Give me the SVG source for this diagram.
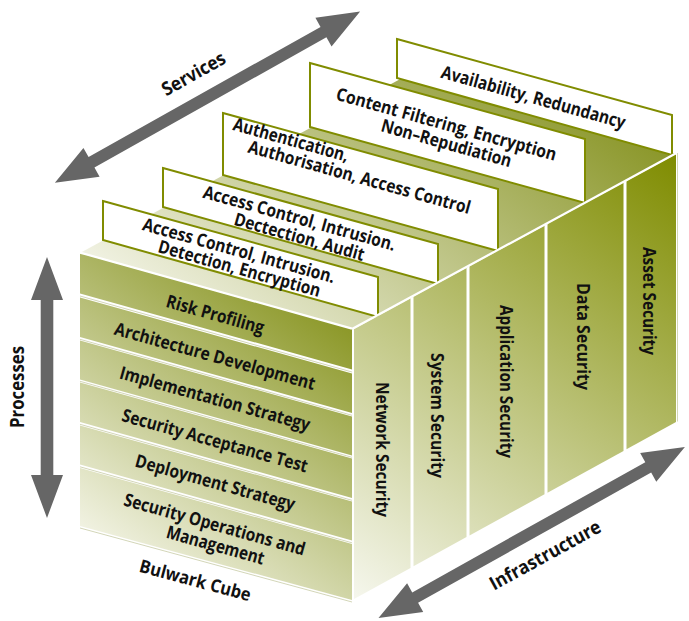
<svg xmlns="http://www.w3.org/2000/svg" width="689" height="621" viewBox="0 0 689 621">
<defs>
<linearGradient id="gFront" gradientUnits="userSpaceOnUse" x1="80" y1="527" x2="271" y2="269">
<stop offset="0" stop-color="#f1f2e2"/><stop offset="1" stop-color="#8c9828"/>
</linearGradient>
<linearGradient id="gRight" gradientUnits="userSpaceOnUse" x1="352" y1="600" x2="676" y2="154">
<stop offset="0" stop-color="#f6f7ee"/><stop offset="1" stop-color="#7f8c00"/>
</linearGradient>
<linearGradient id="gTop" gradientUnits="userSpaceOnUse" x1="80" y1="253" x2="342" y2="-97">
<stop offset="0" stop-color="#f1f2e3"/><stop offset="1" stop-color="#8a9628"/>
</linearGradient>
</defs>
<style>
.t{font-family:"Open Sans","Liberation Sans",sans-serif;font-weight:700;font-size:18px;fill:#111;text-anchor:middle}
.ax{font-size:19px}
.v{font-size:17.5px}
.plate{fill:#fff;stroke:#808c00;stroke-width:2}
.sep{stroke:#d3d6b8;stroke-width:1;fill:none}
.edge{stroke:#fff;stroke-width:2.2;fill:none}
.arrow{fill:#666}
</style>
<rect width="689" height="621" fill="#fff"/>

<g id="top-face">
<polygon points="80,253 352,330 676,154 404,77" fill="url(#gTop)"/>
</g>

<g id="plate-availability">
<polygon class="plate" points="397,39 672,115 672,155 397,78"/>
<text class="t" transform="translate(533.5 97) rotate(15.6)" dy=".355em" textLength="190.5" lengthAdjust="spacingAndGlyphs">Availability, Redundancy</text>
</g>
<g id="plate-content-filtering">
<polygon class="plate" points="310,63 585,139 585,203 310,127"/>
<text class="t" transform="translate(446.5 124) rotate(15.6)" dy=".355em" textLength="228" lengthAdjust="spacingAndGlyphs">Content Filtering, Encryption</text>
<text class="t" transform="translate(446.5 143) rotate(15.6)" dy=".355em" textLength="134.5" lengthAdjust="spacingAndGlyphs">Non–Repudiation</text>
</g>
<g id="plate-authentication">
<polygon class="plate" points="223,113 498,189 498,251 223,175"/>
<text class="t" transform="translate(291 139.6) rotate(15.6)" dy=".355em" textLength="119" lengthAdjust="spacingAndGlyphs">Authentication,</text>
<text class="t" transform="translate(359.5 177) rotate(15.6)" dy=".355em" textLength="230" lengthAdjust="spacingAndGlyphs">Authorisation, Access Control</text>
</g>
<g id="plate-access-audit">
<polygon class="plate" points="163,168 438,244 438,284 163,207"/>
<text class="t" transform="translate(299.5 218) rotate(15.6)" dy=".355em" textLength="199" lengthAdjust="spacingAndGlyphs">Access Control, Intrusion.</text>
<text class="t" transform="translate(299.4 236.7) rotate(15.6)" dy=".355em" textLength="134.5" lengthAdjust="spacingAndGlyphs">Dectection, Audit</text>
</g>
<g id="plate-access-encryption">
<polygon class="plate" points="103,201 378,277 378,317 103,240"/>
<text class="t" transform="translate(239 250.4) rotate(15.6)" dy=".355em" textLength="199" lengthAdjust="spacingAndGlyphs">Access Control, Intrusion.</text>
<text class="t" transform="translate(239.5 268.4) rotate(15.6)" dy=".355em" textLength="167.7" lengthAdjust="spacingAndGlyphs">Detection, Encryption</text>
</g>

<g id="col-network">
<polygon points="354,328.9 410.5,298.2 410.5,567.9 354,598.9" fill="url(#gRight)"/>
<text class="t v" transform="translate(382 449.5) rotate(90)" dy=".355em" textLength="135" lengthAdjust="spacingAndGlyphs">Network Security</text>
</g>
<g id="col-system">
<polygon points="413.5,296.6 466.5,267.8 466.5,537.1 413.5,566.2" fill="url(#gRight)"/>
<text class="t v" transform="translate(437.5 415.5) rotate(90)" dy=".355em" textLength="125" lengthAdjust="spacingAndGlyphs">System Security</text>
</g>
<g id="col-application">
<polygon points="469.5,266.2 544.5,225.5 544.5,494.3 469.5,535.5" fill="url(#gRight)"/>
<text class="t v" transform="translate(506 381.5) rotate(90)" dy=".355em" textLength="153" lengthAdjust="spacingAndGlyphs">Application Security</text>
</g>
<g id="col-data">
<polygon points="547.5,223.8 623.5,182.6 623.5,450.9 547.5,492.7" fill="url(#gRight)"/>
<text class="t v" transform="translate(583.5 336.5) rotate(90)" dy=".355em" textLength="107" lengthAdjust="spacingAndGlyphs">Data Security</text>
</g>
<g id="col-asset">
<polygon points="626.5,180.9 676,154.1 676,422.1 626.5,449.3" fill="url(#gRight)"/>
<text class="t v" transform="translate(649.5 301) rotate(90)" dy=".355em" textLength="108" lengthAdjust="spacingAndGlyphs">Asset Security</text>
</g>

<g id="band-risk">
<polygon points="80,253 352,329 352,369.5 80,293.5" fill="url(#gFront)"/>
<text class="t" transform="translate(215.3 314.3) rotate(15.6)" dy=".355em" textLength="101" lengthAdjust="spacingAndGlyphs">Risk Profiling</text>
</g>
<g id="band-architecture">
<polygon points="80,297.5 352,373.5 352,413 80,337" fill="url(#gFront)"/>
<text class="t" transform="translate(215 356) rotate(15.6)" dy=".355em" textLength="207.6" lengthAdjust="spacingAndGlyphs">Architecture Development</text>
</g>
<g id="band-implementation">
<polygon points="80,340.5 352,416.5 352,455.5 80,379.5" fill="url(#gFront)"/>
<text class="t" transform="translate(215 398.5) rotate(15.6)" dy=".355em" textLength="197" lengthAdjust="spacingAndGlyphs">Implementation Strategy</text>
</g>
<g id="band-acceptance">
<polygon points="80,382.5 352,458.5 352,498 80,422" fill="url(#gFront)"/>
<text class="t" transform="translate(215 440.5) rotate(15.6)" dy=".355em" textLength="192" lengthAdjust="spacingAndGlyphs">Security Acceptance Test</text>
</g>
<g id="band-deployment">
<polygon points="80,425.5 352,501.5 352,540.5 80,464.5" fill="url(#gFront)"/>
<text class="t" transform="translate(215.3 482.4) rotate(15.6)" dy=".355em" textLength="165" lengthAdjust="spacingAndGlyphs">Deployment Strategy</text>
</g>
<g id="band-operations">
<polygon points="80,468 352,544 352,600 80,526" fill="url(#gFront)"/>
<text class="t" transform="translate(214.7 524.2) rotate(15.6)" dy=".355em" textLength="187.4" lengthAdjust="spacingAndGlyphs">Security Operations and</text>
<text class="t" transform="translate(215.5 545) rotate(15.6)" dy=".355em" textLength="101" lengthAdjust="spacingAndGlyphs">Management</text>
</g>

<g id="edges">
<line class="sep" x1="80" y1="296" x2="352" y2="372"/>
<line class="sep" x1="80" y1="339.3" x2="352" y2="415.3"/>
<line class="sep" x1="80" y1="381.3" x2="352" y2="457.3"/>
<line class="sep" x1="80" y1="424.3" x2="352" y2="500.3"/>
<line class="sep" x1="80" y1="466.8" x2="352" y2="542.8"/>
<line class="sep" x1="80" y1="528" x2="352" y2="602"/>
<line class="edge" x1="80" y1="252.6" x2="352" y2="328.6"/>
<line class="edge" x1="352" y1="329" x2="676.5" y2="153"/>
<line x1="677.5" y1="153" x2="677.5" y2="421.5" stroke="#d3d6b8" stroke-width="1"/>
</g>

<g id="label-bulwark">
<text class="t" transform="translate(195.3 580.2) rotate(15)" dy=".355em" textLength="114.7" lengthAdjust="spacingAndGlyphs">Bulwark Cube</text>
</g>

<g id="connectors">
<path id="arrow-services" class="arrow" transform="translate(207.5 97.2) rotate(-29.3)" d="M-175,0 L-133,-16.5 L-133,-6 L133,-6 L133,-16.5 L175,0 L133,16.5 L133,6 L-133,6 L-133,16.5 Z"/>
<path id="arrow-processes" class="arrow" transform="translate(47 387.5) rotate(90)" d="M-130.5,0 L-87.5,-16 L-87.5,-6.3 L87.5,-6.3 L87.5,-16 L130.5,0 L87.5,16 L87.5,6.3 L-87.5,6.3 L-87.5,16 Z"/>
<path id="arrow-infrastructure" class="arrow" transform="translate(531.7 532.5) rotate(-29.2)" d="M-175.5,0 L-133.5,-16.5 L-133.5,-6 L133.5,-6 L133.5,-16.5 L175.5,0 L133.5,16.5 L133.5,6 L-133.5,6 L-133.5,16.5 Z"/>
</g>

<g id="axis-labels">
<text class="t ax" transform="translate(193.5 73.5) rotate(-29.3)" dy=".355em" textLength="70" lengthAdjust="spacingAndGlyphs">Services</text>
<text class="t ax" transform="translate(17.5 387) rotate(-90)" dy=".355em" textLength="82" lengthAdjust="spacingAndGlyphs">Processes</text>
<text class="t ax" transform="translate(545 555) rotate(-28.8)" dy=".355em" textLength="124" lengthAdjust="spacingAndGlyphs">Infrastructure</text>
</g>
</svg>
